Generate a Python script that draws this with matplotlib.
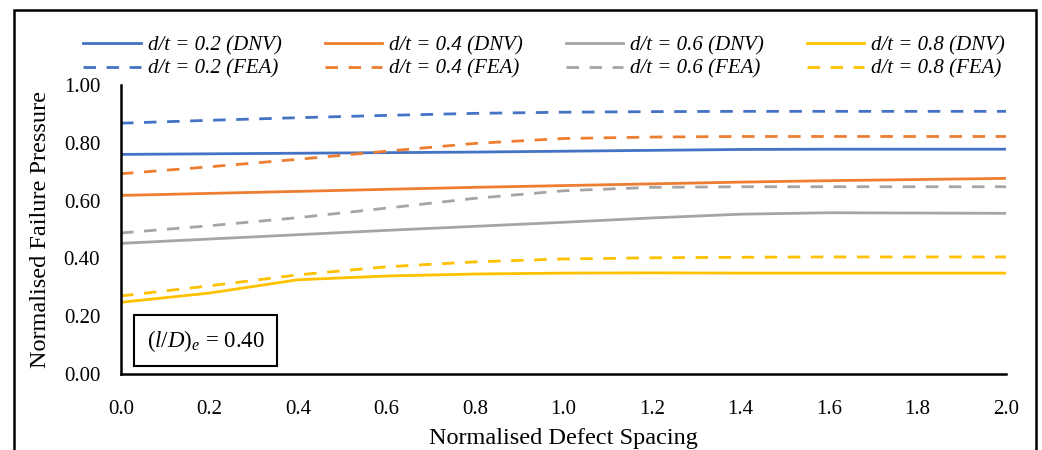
import numpy as np
import matplotlib.pyplot as plt
from matplotlib.patches import Rectangle

plt.rcParams['font.family'] = ['Liberation Serif', 'DejaVu Serif']
plt.rcParams['mathtext.fontset'] = 'custom'
plt.rcParams['mathtext.rm'] = 'Liberation Serif'
plt.rcParams['mathtext.it'] = 'Liberation Serif:italic'

#%% DATA
spacing = [0.0, 0.2, 0.4, 0.6, 0.8, 1.0, 1.2, 1.4, 1.6, 1.8, 2.0]

dnv_02 = [0.760, 0.762, 0.764, 0.766, 0.768, 0.771, 0.774, 0.777, 0.778, 0.778, 0.778]
dnv_04 = [0.618, 0.625, 0.632, 0.639, 0.646, 0.652, 0.658, 0.664, 0.669, 0.673, 0.677]
dnv_06 = [0.452, 0.467, 0.482, 0.497, 0.511, 0.525, 0.540, 0.553, 0.558, 0.557, 0.556]
dnv_08 = [0.248, 0.280, 0.326, 0.339, 0.346, 0.349, 0.350, 0.349, 0.349, 0.349, 0.349]

fea_02 = [0.868, 0.878, 0.887, 0.895, 0.902, 0.906, 0.908, 0.909, 0.909, 0.909, 0.909]
fea_04 = [0.693, 0.717, 0.743, 0.771, 0.798, 0.815, 0.820, 0.822, 0.822, 0.822, 0.822]
fea_06 = [0.488, 0.513, 0.541, 0.574, 0.608, 0.634, 0.646, 0.648, 0.648, 0.648, 0.648]
fea_08 = [0.270, 0.305, 0.343, 0.371, 0.388, 0.398, 0.402, 0.404, 0.405, 0.405, 0.405]

ratios = ['0.2', '0.4', '0.6', '0.8']
colors = ['#4472C4', '#ED7D31', '#A5A5A5', '#FFC000']
dnv = [dnv_02, dnv_04, dnv_06, dnv_08]
fea = [fea_02, fea_04, fea_06, fea_08]

#%% PLOT
fig = plt.figure(figsize=(10.42, 4.5), dpi=100)
ax = fig.add_axes([0.1161, 0.169, 0.8494, 0.642])

handles = []
for r, c, yd, yf in zip(ratios, colors, dnv, fea):
    h1, = ax.plot(spacing, yd, color=c, lw=2.0, label='d/t = ' + r + ' (DNV)')
    h2, = ax.plot(spacing, yf, color=c, lw=2.0, dashes=(4.5, 3.8),
                  label='d/t = ' + r + ' (FEA)')
    handles += [h1, h2]

ax.set_xlim(0, 2.0)
ax.set_ylim(0, 1.0)
ax.set_xticks(np.arange(0, 2.01, 0.2))
ax.set_yticks(np.arange(0, 1.01, 0.2))
ax.xaxis.set_major_formatter(plt.FormatStrFormatter('%.1f'))
ax.yaxis.set_major_formatter(plt.FormatStrFormatter('%.2f'))
ax.tick_params(length=0, labelsize=15)
ax.tick_params(axis='x', pad=19)
ax.tick_params(axis='y', pad=15)
for s in ['top', 'right']:
    ax.spines[s].set_visible(False)
for s in ['left', 'bottom']:
    ax.spines[s].set_linewidth(1.8)

ax.set_xlabel('Normalised Defect Spacing', fontsize=17.5, labelpad=6)
ax.set_ylabel('Normalised Failure Pressure', fontsize=17.5, labelpad=9)

# annotation box with the effective length ratio
ax.text(0.096, 0.115, r'$(l/D)_e$ = 0.40', transform=ax.transAxes,
        fontsize=16.5, ha='center', va='center',
        bbox=dict(boxstyle='square,pad=0.55', fc='white', ec='black', lw=1.5))

leg = fig.legend(handles=handles, loc='upper left', ncol=4,
                 bbox_to_anchor=(0.0700, 0.944), frameon=False, borderpad=0,
                 handlelength=2.75, handletextpad=0.35, columnspacing=2.05,
                 labelspacing=0.2, prop={'size': 15, 'style': 'italic'})

# outer frame
fig.patches.append(Rectangle((0.0134, -0.1), 0.9808, 1.078, transform=fig.transFigure,
                             fill=False, ec='black', lw=1.8))

fig.savefig('out.png', dpi=100)
